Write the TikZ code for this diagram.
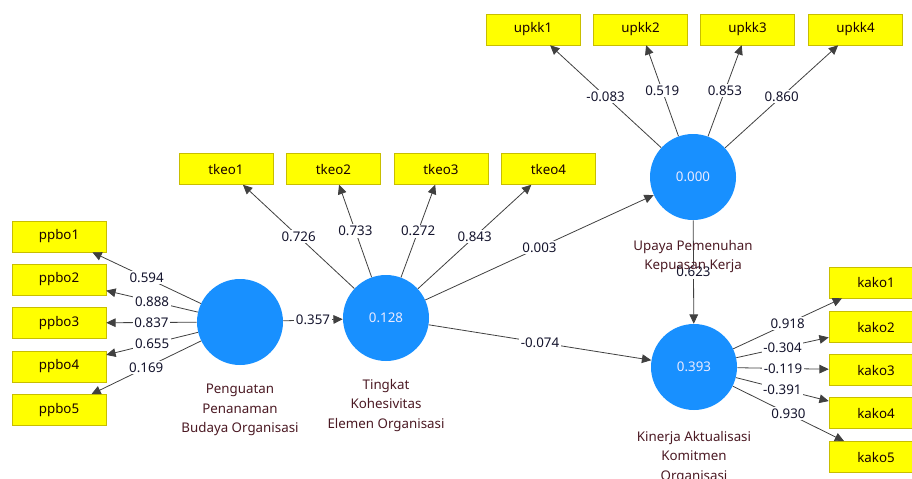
\documentclass[tikz,border=0pt]{standalone}
\usepackage{fontspec}
\setmainfont{Noto Sans}
\usetikzlibrary{arrows.meta}
\definecolor{boxyellow}{RGB}{255,255,0}
\definecolor{boxedge}{RGB}{200,190,0}
\definecolor{lvblue}{RGB}{24,144,255}
\definecolor{captext}{RGB}{75,25,35}
\definecolor{numtext}{RGB}{20,20,45}
\tikzset{
  box/.style={draw=boxedge, fill=boxyellow, minimum width=70.5pt, minimum height=23.25pt, inner sep=0pt, text=black!90!red, font=\fontsize{10}{12}\selectfont},
  lv/.style={circle, fill=lvblue, minimum size=64.5pt, inner sep=0pt, text=white!92!blue, font=\fontsize{10}{12}\selectfont},
  lvcap/.style={align=center, anchor=north, inner sep=0pt, text=captext, font=\fontsize{10}{14.5}\selectfont},
  link/.style={draw=black!75, line width=0.6pt, -{Triangle[length=7pt,width=6.5pt]}},
  coef/.style={fill=white, inner sep=1.2pt, pos=0.5, text=numtext, font=\fontsize{10}{12}\selectfont}
}
\begin{document}
\begin{tikzpicture}[x=0.75pt,y=0.75pt,yscale=-1,xscale=1]
\useasboundingbox (0,0) rectangle (912,478);
\clip (0,0) rectangle (912,478);
%Latent variables
\node (ppbo) [lv] at (240,322) {};
\node (tkeo) [lv] at (386,318) {0.128};
\node (upkk) [lv] at (693,177) {0.000};
\node (kako) [lv] at (694,367) {0.393};
%Indicators ppbo
\node (ppbo1) [box] at (59,236.5) {ppbo1};
\node (ppbo2) [box] at (59,279.5) {ppbo2};
\node (ppbo3) [box] at (59,323) {ppbo3};
\node (ppbo4) [box] at (59,366.5) {ppbo4};
\node (ppbo5) [box] at (59,410) {ppbo5};
%Indicators tkeo
\node (tkeo1) [box] at (226,169) {tkeo1};
\node (tkeo2) [box] at (333.5,169) {tkeo2};
\node (tkeo3) [box] at (441,169) {tkeo3};
\node (tkeo4) [box] at (548.5,169) {tkeo4};
%Indicators upkk
\node (upkk1) [box] at (533,29.5) {upkk1};
\node (upkk2) [box] at (640.5,29.5) {upkk2};
\node (upkk3) [box] at (747.5,29.5) {upkk3};
\node (upkk4) [box] at (855.5,29.5) {upkk4};
%Indicators kako
\node (kako1) [box] at (876,282.5) {kako1};
\node (kako2) [box] at (876,327) {kako2};
\node (kako3) [box] at (876,370) {kako3};
\node (kako4) [box] at (876,413) {kako4};
\node (kako5) [box] at (876,457) {kako5};
%Outer loadings
\draw [link] (ppbo) -- (ppbo1) node [coef] {0.594};
\draw [link] (ppbo) -- (ppbo2) node [coef] {0.888};
\draw [link] (ppbo) -- (ppbo3) node [coef] {0.837};
\draw [link] (ppbo) -- (ppbo4) node [coef] {0.655};
\draw [link] (ppbo) -- (ppbo5) node [coef] {0.169};
\draw [link] (tkeo) -- (tkeo1) node [coef] {0.726};
\draw [link] (tkeo) -- (tkeo2) node [coef] {0.733};
\draw [link] (tkeo) -- (tkeo3) node [coef] {0.272};
\draw [link] (tkeo) -- (tkeo4) node [coef] {0.843};
\draw [link] (upkk) -- (upkk1) node [coef] {-0.083};
\draw [link] (upkk) -- (upkk2) node [coef] {0.519};
\draw [link] (upkk) -- (upkk3) node [coef] {0.853};
\draw [link] (upkk) -- (upkk4) node [coef] {0.860};
\draw [link] (kako) -- (kako1) node [coef] {0.918};
\draw [link] (kako) -- (kako2) node [coef] {-0.304};
\draw [link] (kako) -- (kako3) node [coef] {-0.119};
\draw [link] (kako) -- (kako4) node [coef] {-0.391};
\draw [link] (kako) -- (kako5) node [coef] {0.930};
%Path coefficients
\draw [link] (ppbo) -- (tkeo) node [coef] {0.357};
\draw [link] (tkeo) -- (upkk) node [coef] {0.003};
\draw [link] (tkeo) -- (kako) node [coef] {-0.074};
\draw [link] (upkk) -- (kako) node [coef] {0.623};
%Captions
\node (ppbocap) [lvcap] at (240,384) {Penguatan\\Penanaman\\Budaya Organisasi};
\node (tkeocap) [lvcap] at (386,379) {Tingkat\\Kohesivitas\\Elemen Organisasi};
\node (upkkcap) [lvcap] at (693,240) {Upaya Pemenuhan\\Kepuasan Kerja};
\node (kakocap) [lvcap] at (694,431) {Kinerja Aktualisasi\\Komitmen\\Organisasi};
\end{tikzpicture}
\end{document}
